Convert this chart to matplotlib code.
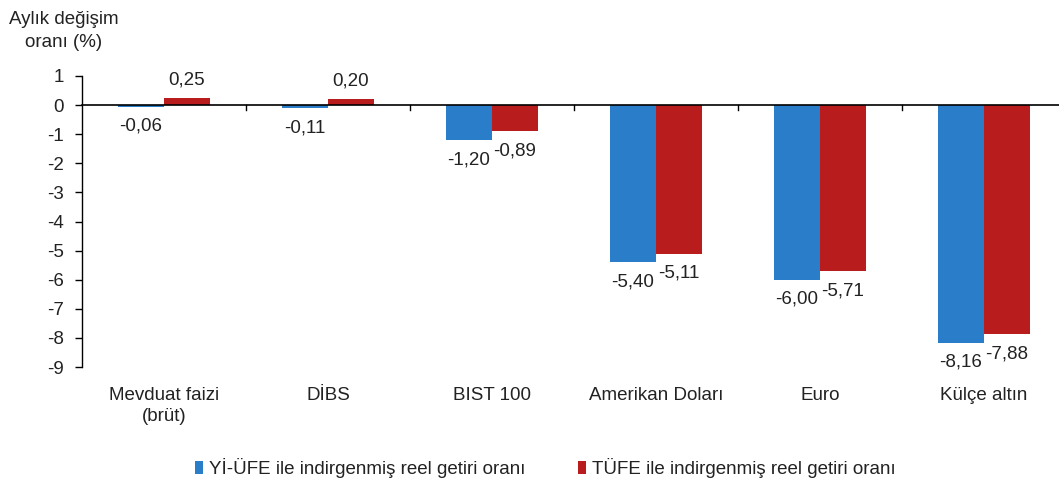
import numpy as np
import matplotlib
matplotlib.use("Agg")
import matplotlib.pyplot as plt

plt.rcParams['font.family'] = ['Liberation Sans', 'DejaVu Sans']

# chart data
categories = ["Mevduat faizi\n(brüt)", "DİBS", "BIST 100", "Amerikan Doları", "Euro", "Külçe altın"]
yi_ufe = [-0.06, -0.11, -1.20, -5.40, -6.00, -8.16]
tufe = [0.25, 0.20, -0.89, -5.11, -5.71, -7.88]
series_names = ["Yİ-ÜFE ile indirgenmiş reel getiri oranı", "TÜFE ile indirgenmiş reel getiri oranı"]
y_ticks = [1, 0, -1, -2, -3, -4, -5, -6, -7, -8, -9]

blue = "#2a7dc9"
red = "#b81c1c"
txt = "#222222"
fs = 13.5

fig = plt.figure(figsize=(10.59, 4.86), dpi=100)
ax = fig.add_axes([82 / 1059, 119 / 486, 984 / 1059, 291 / 486])

x = np.arange(len(categories))
w = 0.28
b1 = ax.bar(x - w / 2, yi_ufe, w, color=blue, label=series_names[0], zorder=2)
b2 = ax.bar(x + w / 2, tufe, w, color=red, label=series_names[1], zorder=2)


def fmt(v):
    return ("%.2f" % v).replace(".", ",")


for bars in (b1, b2):
    for rect in bars:
        v = rect.get_height()
        cx = rect.get_x() + rect.get_width() / 2
        if v >= 0:
            ax.annotate(fmt(v), (cx, v), xytext=(0, 7), textcoords="offset points",
                        ha="center", va="bottom", fontsize=fs, color=txt)
        else:
            ax.annotate(fmt(v), (cx, v), xytext=(0, -8), textcoords="offset points",
                        ha="center", va="top", fontsize=fs, color=txt)

ax.set_xlim(-0.5, len(categories) - 0.5)
ax.set_ylim(-9, 1)
ax.set_yticks(y_ticks)
ax.set_yticklabels([str(t) for t in y_ticks], fontsize=fs, color=txt)
ax.tick_params(axis="y", direction="out", length=5, width=1, pad=8)
ax.set_xticks([])

for s in ["top", "right", "bottom"]:
    ax.spines[s].set_visible(False)
ax.spines["left"].set_linewidth(1)

# zero line with tick marks between categories
ax.axhline(0, color="black", linewidth=1.2, zorder=3, clip_on=False)
for b in np.arange(0.5, len(categories) - 0.5, 1):
    ax.plot([b, b], [0, -0.18], color="black", linewidth=1, zorder=3)

# category labels
for i, c in enumerate(categories):
    ax.text(i, -9.7, c, ha="center", va="top", fontsize=fs, color=txt,
            linespacing=1.25)

# y-axis title
fig.text(64 / 1059, 1 - 11 / 486, "Aylık değişim\noranı (%)", ha="center", va="top",
         fontsize=fs, color=txt, linespacing=1.45)

leg = fig.legend(loc="center", bbox_to_anchor=(545 / 1059, 1 - 468 / 486), ncol=2,
                 frameon=False, fontsize=fs, handlelength=0.45, handleheight=0.65,
                 handletextpad=0.3, columnspacing=2.8)
for t in leg.get_texts():
    t.set_color(txt)

fig.savefig("out.png", dpi=100)
